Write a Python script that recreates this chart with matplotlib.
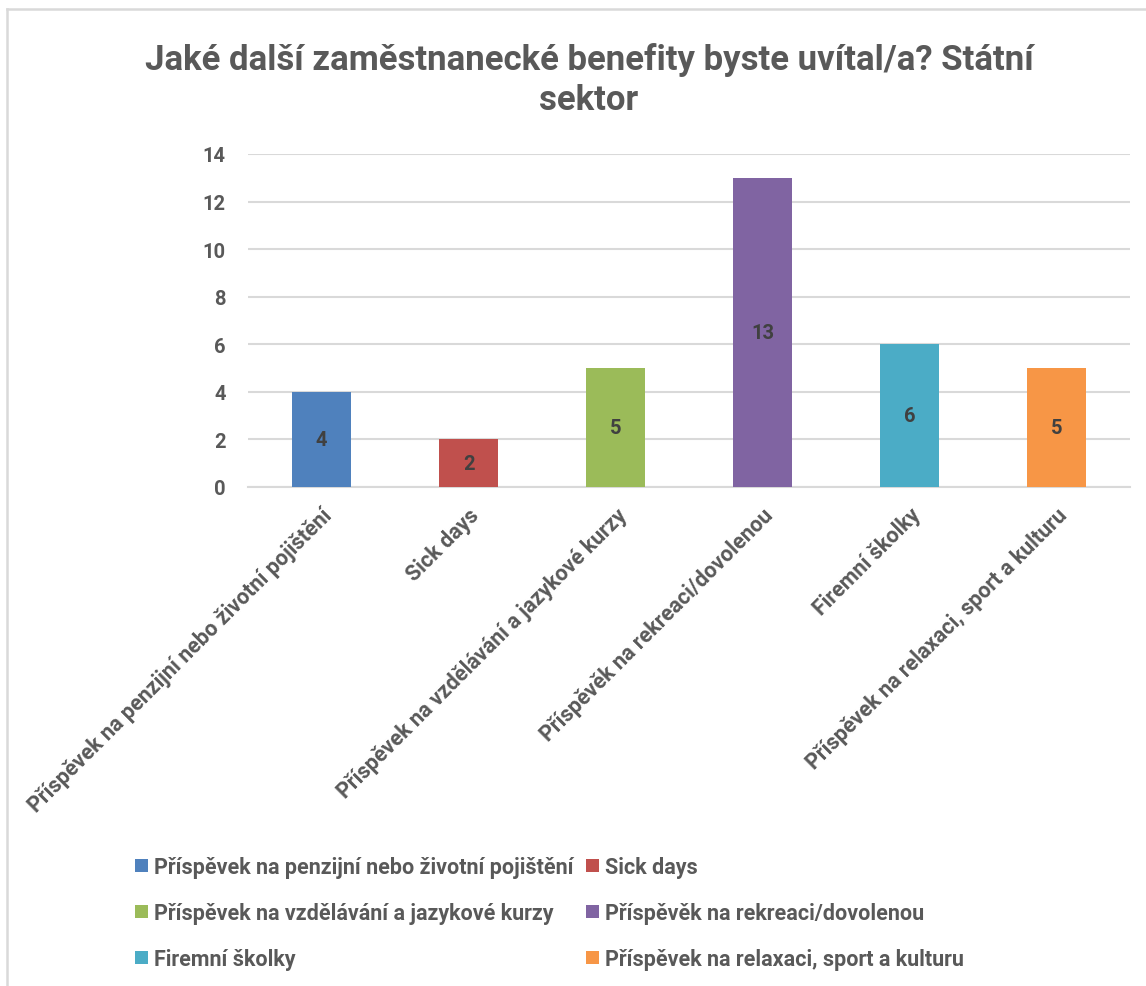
import matplotlib
matplotlib.use("Agg")
import matplotlib.pyplot as plt
from matplotlib.lines import Line2D
from matplotlib.patches import Patch

# data
categories = [
    "Příspěvek na penzijní nebo životní pojištění",
    "Sick days",
    "Příspěvek na vzdělávání a jazykové kurzy",
    "Příspěvěk na rekreaci/dovolenou",
    "Firemní školky",
    "Příspěvek na relaxaci, sport a kulturu",
]
values = [4, 2, 5, 13, 6, 5]
colors = ["#4F81BD", "#C0504D", "#9BBB59", "#8064A2", "#4BACC6", "#F79646"]
y_ticks = [0, 2, 4, 6, 8, 10, 12, 14]
title = "Jaké další zaměstnanecké benefity byste uvítal/a? Státní\nsektor"

plt.rcParams["font.family"] = ["Roboto", "DejaVu Sans"]
plt.rcParams["font.weight"] = "bold"

W, H = 1146, 987
fig = plt.figure(figsize=(W / 100, H / 100), dpi=100)

# chart frame (only top/left edges visible in the reference)
fig.add_artist(Line2D([7 / W, 7 / W], [0, 1 - 10 / H], color="#d9d9d9", lw=1.8))
fig.add_artist(Line2D([7 / W, 1], [1 - 10 / H, 1 - 10 / H], color="#d9d9d9", lw=1.8))

ax = fig.add_axes([248 / W, 1 - 488 / H, (1130 - 248) / W, (488 - 155) / H])
x = list(range(len(categories)))
bars = ax.bar(x, values, width=0.4, color=colors, zorder=3)

for b, v in zip(bars, values):
    ax.text(b.get_x() + b.get_width() / 2, v / 2, str(v), ha="center", va="center",
            fontsize=14.5, fontweight="bold", color="#404040", zorder=4)

ax.set_xlim(-0.5, len(categories) - 0.5)
ax.set_ylim(0, 14)
ax.set_yticks(y_ticks)
ax.yaxis.grid(True, color="#d9d9d9", lw=1.5, zorder=0)
ax.set_axisbelow(True)
for s in ["top", "right", "left"]:
    ax.spines[s].set_visible(False)
ax.spines["bottom"].set_color("#d9d9d9")
ax.spines["bottom"].set_linewidth(1.5)
ax.tick_params(axis="both", length=0, colors="#595959")
ax.tick_params(axis="y", pad=16, labelsize=14.5)
ax.set_xticks(x)
ax.set_xticklabels(categories, rotation=45, ha="right", rotation_mode="anchor",
                   fontweight="bold", color="#595959", fontsize=15.5)
ax.tick_params(axis="x", pad=12)
for t in ax.get_yticklabels():
    t.set_fontweight("bold")

fig.text(589 / W, 1 - 80 / H, title, ha="center", va="center", fontsize=25,
         fontweight="bold", color="#595959", linespacing=1.3)

# legend filled row by row like the original (matplotlib fills by column)
order = [0, 2, 4, 1, 3, 5]
handles = [Patch(facecolor=colors[i], edgecolor="none") for i in order]
labels = [categories[i] for i in order]
leg = fig.legend(handles, labels, ncol=2, loc="upper left",
                 bbox_to_anchor=(135 / W, 1 - 857 / H), frameon=False, borderpad=0,
                 borderaxespad=0, fontsize=15.5, handlelength=0.6, handleheight=0.6,
                 handletextpad=0.3, columnspacing=0.55, labelspacing=1.12)
for t in leg.get_texts():
    t.set_color("#595959")
    t.set_fontweight("bold")

fig.savefig("out.png", dpi=100)
